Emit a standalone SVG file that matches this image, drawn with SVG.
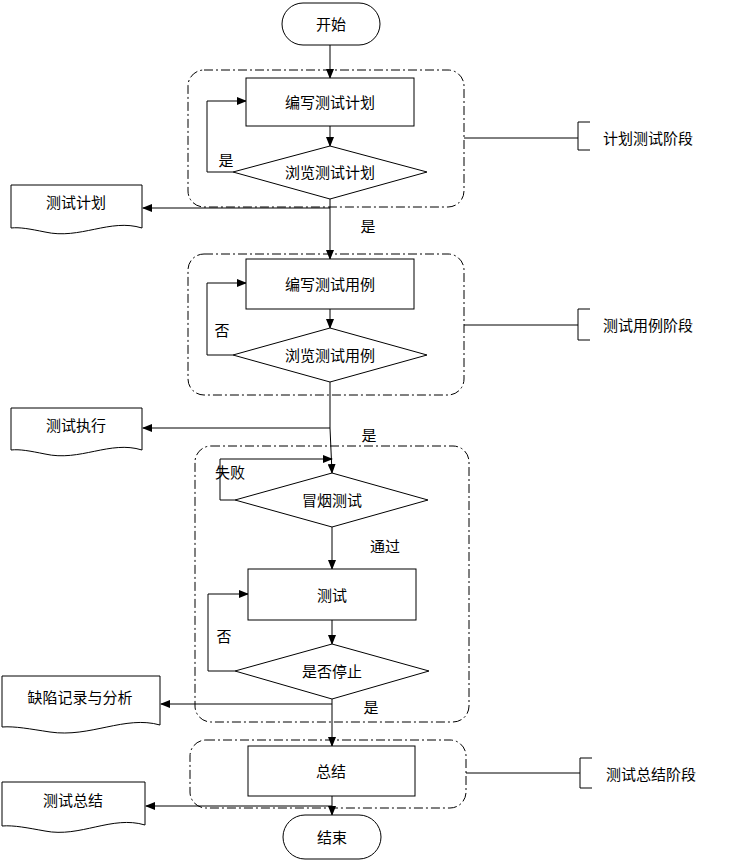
<svg xmlns="http://www.w3.org/2000/svg" width="735" height="863" viewBox="0 0 735 863">
<defs>
<marker id="a" markerWidth="10" markerHeight="8" refX="9" refY="4" orient="auto" markerUnits="userSpaceOnUse"><path d="M0,0L10,4L0,8z" fill="#000"/></marker>
<style>
text{font-family:"Liberation Sans","Noto Sans CJK SC",sans-serif;font-size:15px;fill:#000;text-anchor:middle;dominant-baseline:central}
.s{fill:#fff;stroke:#000;stroke-width:1}
.g{fill:none;stroke:#000;stroke-width:1;stroke-dasharray:9 3 2 3}
.c{fill:none;stroke:#000;stroke-width:1}
.ar{marker-end:url(#a)}
.l{text-anchor:start}
</style>
</defs>
<rect width="735" height="863" fill="#fff"/>
<g id="groups">
<rect class="g" x="188" y="70" width="276" height="137" rx="16"/>
<rect class="g" x="188" y="254" width="276" height="141" rx="16"/>
<rect class="g" x="195" y="446" width="274" height="276" rx="16"/>
<rect class="g" x="190" y="740" width="276" height="68" rx="16"/>
</g>
<g id="connectors">
<path class="c ar" d="M330,45V78"/>
<path class="c ar" d="M330,126V146"/>
<path class="c ar" d="M233,172H207V101H246"/>
<path class="c ar" d="M330,199V259"/>
<path class="c ar" d="M330,208H143"/>
<path class="c ar" d="M330,309V328"/>
<path class="c ar" d="M233,355H207V283H246"/>
<path class="c" d="M330,382V428"/>
<path class="c ar" d="M330,428H143"/>
<path class="c ar" d="M330,428L332,473"/>
<path class="c ar" d="M235,500H220V459H332"/>
<path class="c ar" d="M332,527V569"/>
<path class="c ar" d="M332,620V644"/>
<path class="c ar" d="M235,671H208V594H248"/>
<path class="c ar" d="M332,699V746"/>
<path class="c ar" d="M332,704H161"/>
<path class="c ar" d="M332,796V815"/>
<path class="c ar" d="M332,806H146"/>
<path class="c" d="M464,138H578M590,122H578V150H590"/>
<path class="c" d="M464,325H578M590,309H578V340H590"/>
<path class="c" d="M466,773H580M592,758H580V788H592"/>
</g>
<g id="start"><rect class="s" x="282" y="3" width="98" height="42" rx="21"/><text x="331" y="24">开始</text></g>
<g id="write-plan"><rect class="s" x="246" y="78" width="168" height="48"/><text x="330" y="102">编写测试计划</text></g>
<g id="review-plan"><path class="s" d="M330,146L427,172L330,199L233,172z"/><text x="330" y="172">浏览测试计划</text></g>
<g id="doc-plan"><path class="s" d="M11,185H142V228C110,218 80,240 45,232C30,229 20,227 11,228z"/><text x="76" y="202">测试计划</text></g>
<g id="write-case"><rect class="s" x="246" y="259" width="168" height="50"/><text x="330" y="284">编写测试用例</text></g>
<g id="review-case"><path class="s" d="M330,328L427,355L330,382L233,355z"/><text x="330" y="355">浏览测试用例</text></g>
<g id="doc-exec"><path class="s" d="M11,408H142V450C110,440 80,462 45,454C30,451 20,449 11,450z"/><text x="76" y="425">测试执行</text></g>
<g id="smoke"><path class="s" d="M332,473L428,500L332,527L235,500z"/><text x="332" y="500">冒烟测试</text></g>
<g id="test"><rect class="s" x="248" y="569" width="168" height="51"/><text x="332" y="595">测试</text></g>
<g id="stop"><path class="s" d="M332,644L429,671L332,699L235,671z"/><text x="332" y="671">是否停止</text></g>
<g id="doc-defect"><path class="s" d="M2,676H160V725C125,715 90,738 50,732C30,729 15,726 2,727z"/><text x="80" y="697">缺陷记录与分析</text></g>
<g id="summary"><rect class="s" x="248" y="746" width="167" height="50"/><text x="331" y="771">总结</text></g>
<g id="doc-summary"><path class="s" d="M2,782H145V825C112,815 80,838 45,831C28,828 14,825 2,826z"/><text x="73" y="800">测试总结</text></g>
<g id="end"><rect class="s" x="283" y="815" width="98" height="44" rx="22"/><text x="332" y="837">结束</text></g>
<g id="labels">
<text x="226" y="160">是</text>
<text x="368" y="226">是</text>
<text x="222" y="330">否</text>
<text x="369" y="435">是</text>
<text x="230" y="472">失败</text>
<text x="385" y="546">通过</text>
<text x="224" y="636">否</text>
<text x="371" y="707">是</text>
<text class="l" x="603" y="138">计划测试阶段</text>
<text class="l" x="603" y="325">测试用例阶段</text>
<text class="l" x="606" y="774">测试总结阶段</text>
</g>
</svg>
